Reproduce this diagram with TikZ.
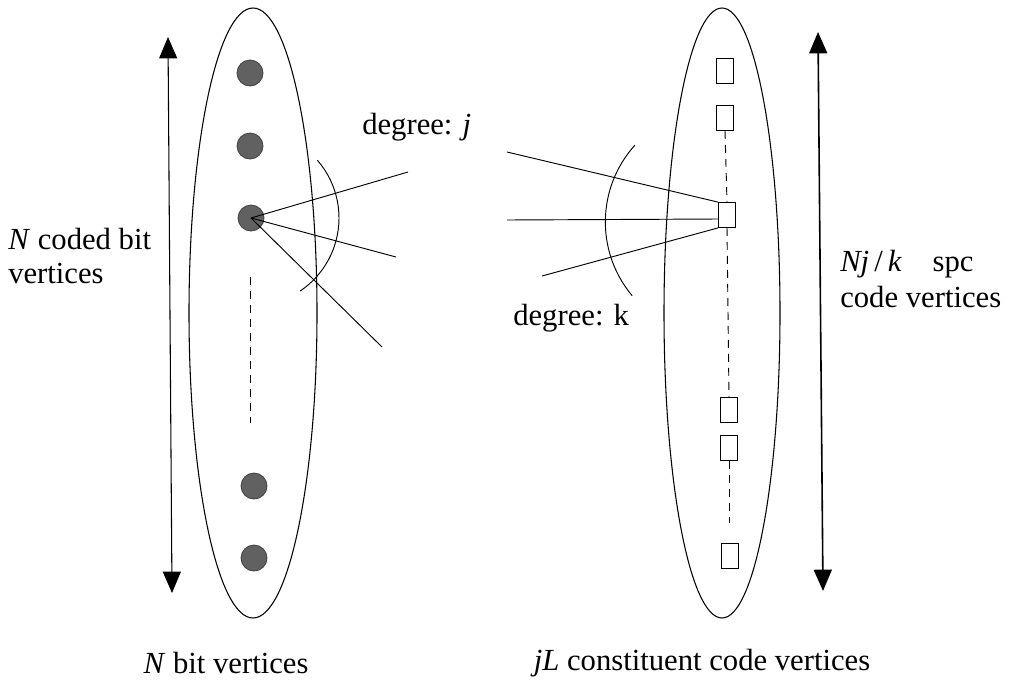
\documentclass[tikz,border=0pt]{standalone}
\usepackage{fontspec}
\setmainfont{Liberation Serif}
\usetikzlibrary{arrows.meta,shapes.geometric}
\tikzset{
  grp/.style={draw,ellipse,line width=0.8pt,inner sep=0pt},
  bitdot/.style={circle,fill=black!62,draw=black!75,line width=0.6pt,minimum size=19.5pt,inner sep=0pt},
  spcbox/.style={rectangle,draw,line width=0.8pt,minimum width=12.5pt,minimum height=18.5pt,inner sep=0pt},
  edge/.style={line width=0.7pt},
  dsh/.style={line width=0.7pt,dash pattern=on 6pt off 4.5pt},
  dbl/.style={{Triangle[width=13.5pt,length=16pt]}-{Triangle[width=13.5pt,length=16pt]}},
  lbl/.style={font=\fontsize{23}{25}\selectfont,inner sep=0pt},
}
\begin{document}
\begin{tikzpicture}[x=0.75pt,y=-0.75pt]
\useasboundingbox (0,0) rectangle (1009,682);
% groups
\node[grp,minimum width=96pt,minimum height=457.5pt] (bitset) at (253,313) {};
\node[grp,minimum width=87pt,minimum height=457.5pt] (codeset) at (722,313) {};
% bit vertices
\node[bitdot] (b1) at (250,73) {};
\node[bitdot] (b2) at (250,146) {};
\node[bitdot] (b3) at (251,218) {};
\node[bitdot] (b4) at (254,486) {};
\node[bitdot] (b5) at (254,558) {};
\coordinate (bd1) at (250,277);
\coordinate (bd2) at (250,423);
\draw[dsh] (bd1) -- (bd2);
% code vertices
\node[spcbox] (c1) at (725,71) {};
\node[spcbox] (c2) at (725,118) {};
\node[spcbox] (c3) at (727,215) {};
\node[spcbox] (c4) at (729,410) {};
\node[spcbox] (c5) at (729,448) {};
\node[spcbox] (c6) at (730,556) {};
\coordinate (cd1) at (729,523);
\draw[dsh] (c2.south) -- (c3.north);
\draw[dsh] (c3.south) -- (c4.north);
\draw[dsh] (c5.south) -- (cd1);
% edges from bit vertex
\coordinate (e1) at (408,172);
\coordinate (e2) at (396,257);
\coordinate (e3) at (382,347);
\draw[edge] (b3.center) -- (e1);
\draw[edge] (b3.center) -- (e2);
\draw[edge] (b3.center) -- (e3);
\draw[edge] ([shift={(41:66pt)}]b3.center) arc[start angle=41,end angle=-56,radius=66pt];
% edges to code vertex
\coordinate (f1) at (507,152);
\coordinate (f2) at (507,220);
\coordinate (f3) at (542,276);
\draw[edge] (f1) -- (c3.north west);
\draw[edge] (f2) -- ([yshift=-3pt]c3.west);
\draw[edge] (f3) -- (c3.south west);
\coordinate (kc) at (720,222);
\draw[edge] ([shift={(138:86pt)}]kc) arc[start angle=138,end angle=220,radius=86pt];
% vertical arrows
\coordinate (la1) at (168,37);
\coordinate (la2) at (172,593);
\draw[dbl,line width=0.8pt] (la1) -- (la2);
\coordinate (ra1) at (818,32);
\coordinate (ra2) at (823,591);
\draw[dbl,line width=1.2pt] (ra1) -- (ra2);
% labels
\node[lbl,anchor=west,align=left] (lN) at (8,256) {\textit{N} coded bit\\vertices};
\node[lbl,anchor=west] (ldj) at (362,127) {degree: \textit{j}};
\node[lbl,anchor=west] (ldk) at (513,318) {degree: k};
\node[lbl,anchor=west,align=left,font=\fontsize{23}{26.5}\selectfont] (lR) at (840,279) {\textit{Nj}\,/\,\textit{k}\quad spc\\code vertices};
\node[lbl] (lb1) at (226,663) {\textit{N} bit vertices};
\node[lbl] (lb2) at (702,663) {\textit{jL} constituent code vertices};
\end{tikzpicture}
\end{document}
